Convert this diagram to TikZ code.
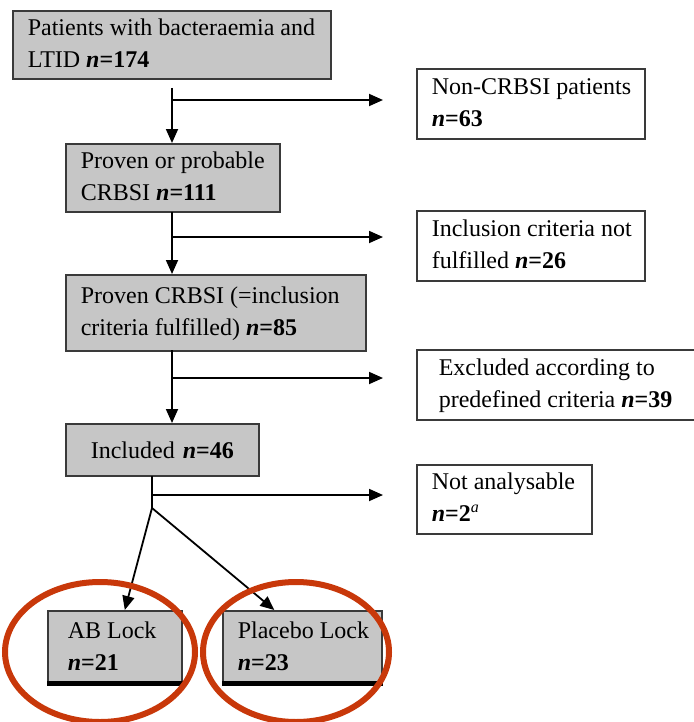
\documentclass[tikz,border=0pt]{standalone}
\usepackage{fontspec}
\setmainfont{Liberation Serif}
\usetikzlibrary{arrows.meta,shapes.geometric}
\definecolor{boxgray}{HTML}{C6C6C6}
\definecolor{edgegray}{HTML}{3A3A3A}
\definecolor{ringred}{HTML}{C8380A}
\newcommand{\nn}[1]{\textbf{\textit{n}=#1}}
% unbreakable left-aligned block of lines
\newcommand{\boxlines}[1]{\begin{tabular}{@{}l@{}}#1\end{tabular}}
\begin{document}
\begin{tikzpicture}[x=0.5pt,y=-0.5pt,
  box/.style={rectangle,draw=edgegray,line width=0.8pt,inner xsep=7.5pt,inner ysep=0pt,
    align=flush left,font=\fontsize{12}{16}\selectfont,anchor=north west},
  graybox/.style={box,fill=boxgray},
  whitebox/.style={box,fill=white},
  arr/.style={line width=0.9pt,-{Triangle[length=7pt,width=6pt]}},
  ln/.style={line width=0.9pt},
  ring/.style={draw=ringred,line width=3pt}]
\useasboundingbox (0,0) rectangle (693,722);

% main column
\node[graybox,minimum width=159pt,minimum height=34pt,text width=144pt] (b1) at (12,10)
  {\boxlines{Patients with bacteraemia and\\LTID \nn{174}}};
\node[graybox,minimum width=107pt,minimum height=34pt,text width=92pt] (b2) at (65,143)
  {\boxlines{Proven or probable\\CRBSI \nn{111}}};
\node[graybox,minimum width=150pt,minimum height=38pt,text width=135pt] (b3) at (65,274)
  {\boxlines{Proven CRBSI (=inclusion\\criteria fulfilled) \nn{85}}};
\node[graybox,minimum width=96.5pt,minimum height=26pt,text width=81.5pt,align=center] (b4) at (65,423)
  {Included \nn{46}};

% side column
\node[whitebox,minimum width=114pt,minimum height=35pt,text width=99pt] (r1) at (416,68)
  {\boxlines{Non-CRBSI patients\\\nn{63}}};
\node[whitebox,minimum width=114pt,minimum height=35pt,text width=99pt] (r2) at (416,210)
  {\boxlines{Inclusion criteria not\\fulfilled \nn{26}}};
\node[whitebox,minimum width=138pt,minimum height=35pt,text width=123pt,inner xsep=11pt] (r3) at (416,349)
  {\boxlines{Excluded according to\\predefined criteria \nn{39}}};
\node[whitebox,minimum width=87.5pt,minimum height=34.5pt,text width=72.5pt] (r4) at (416,464)
  {\boxlines{Not analysable\\\textbf{\textit{n}=2}\textsuperscript{\textit{a}}}};

% treatment arms
\node[graybox,minimum width=62pt,minimum height=37pt,text width=47pt,inner xsep=10pt] (t1) at (47,610)
  {\boxlines{AB Lock\\\nn{21}}};
\node[graybox,minimum width=79.5pt,minimum height=37pt,text width=64.5pt] (t2) at (222,610)
  {\boxlines{Placebo Lock\\\nn{23}}};
\draw[line width=2.5pt] ([yshift=1.25pt]t1.south west) -- ([yshift=1.25pt]t1.south east);
\draw[line width=2.5pt] ([yshift=1.25pt]t2.south west) -- ([yshift=1.25pt]t2.south east);

% flow connectors
\coordinate (s1) at (172,88);
\coordinate (j1) at (172,100);
\coordinate (s2) at (172,212);
\coordinate (j2) at (172,237);
\coordinate (s3) at (172,350);
\coordinate (j3) at (172,378);
\coordinate (s4) at (152,476);
\coordinate (j4) at (152,495);
\coordinate (f4) at (152,508);

\draw[arr] (s1) -- (s1 |- b2.north);
\draw[arr,shorten >=16.5pt] (j1) -- (j1 -| r1.west);
\draw[arr] (s2) -- (s2 |- b3.north);
\draw[arr,shorten >=16.5pt] (j2) -- (j2 -| r2.west);
\draw[arr] (s3) -- (s3 |- b4.north);
\draw[arr,shorten >=16.5pt] (j3) -- (j3 -| r3.west);
\draw[ln] (s4) -- (f4);
\draw[arr,shorten >=16.5pt] (j4) -- (j4 -| r4.west);
\draw[arr] (f4) -- ([xshift=5pt]t1.north);
\draw[arr] (f4) -- ([xshift=-14pt]t2.north);

% highlight rings
\node[ring,ellipse,minimum width=95pt,minimum height=70pt] (e1) at (100,652) {};
\node[ring,ellipse,minimum width=93pt,minimum height=70pt] (e2) at (296,652) {};
\end{tikzpicture}
\end{document}
